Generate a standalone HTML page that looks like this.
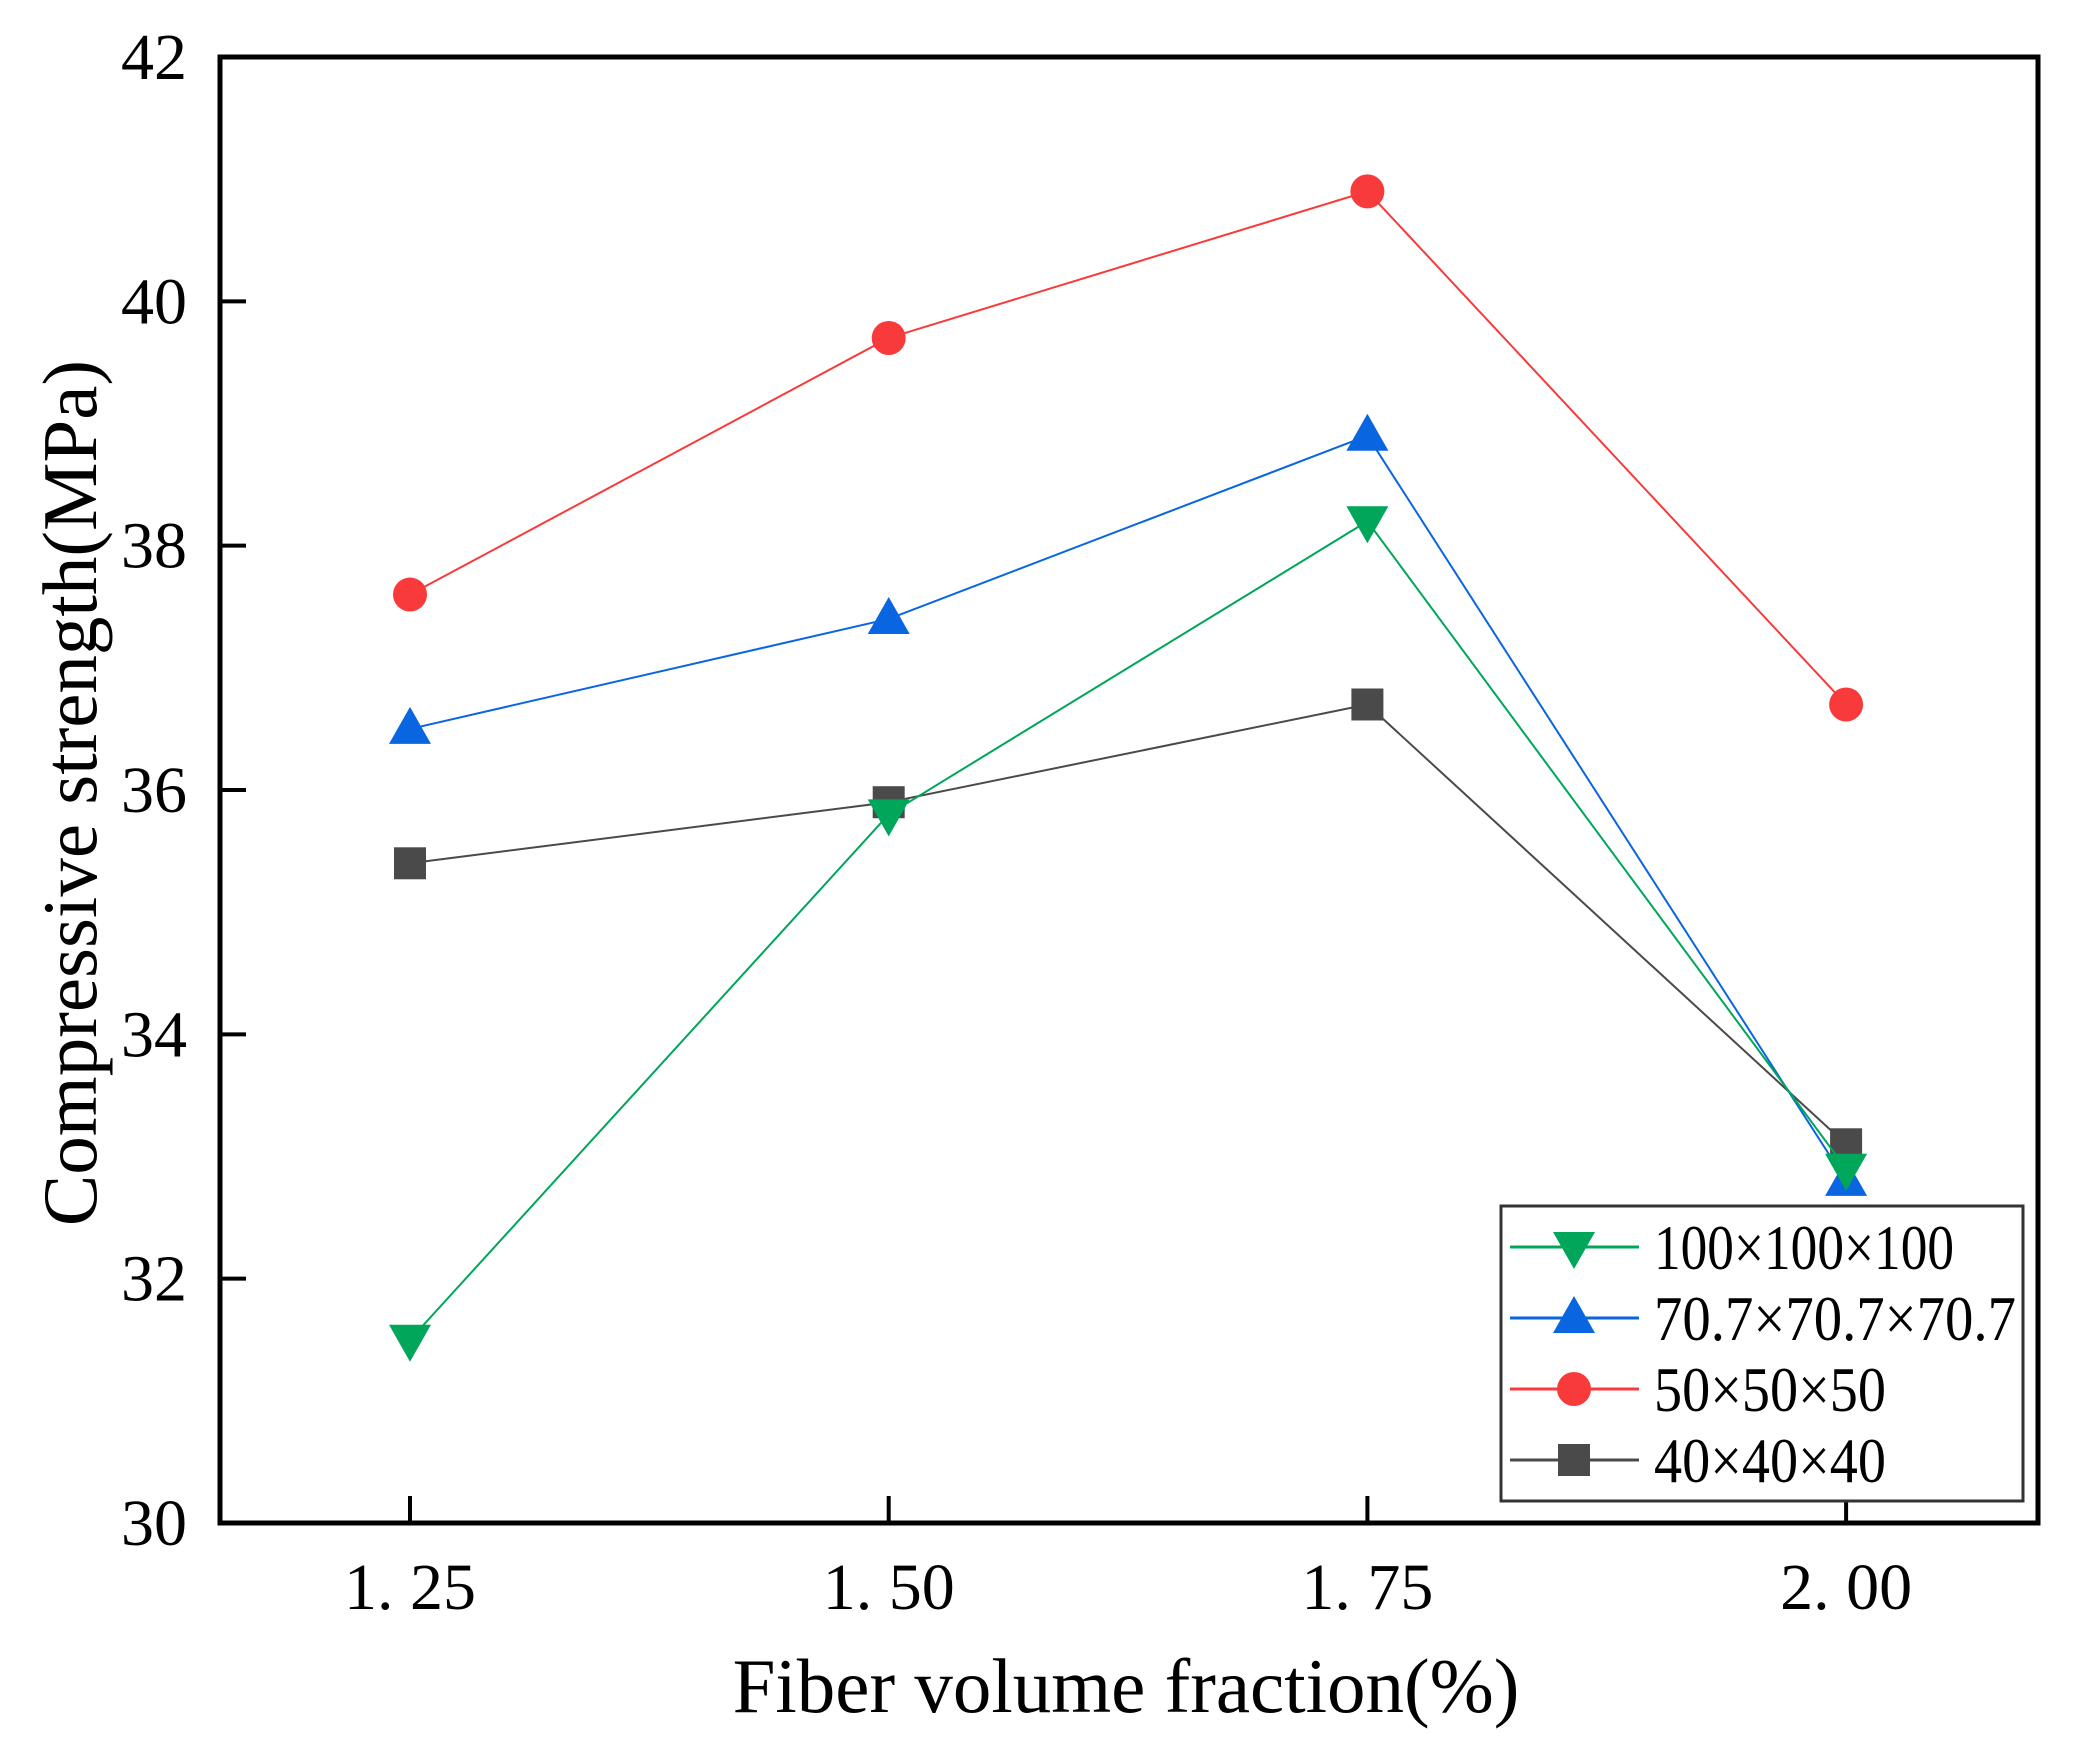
<!DOCTYPE html>
<html><head><meta charset="utf-8"><style>
html,body{margin:0;padding:0;background:#fff}
svg{display:block}
text{font-family:"Liberation Serif",serif;fill:#000}
</style></head><body>
<svg id="chart" width="2077" height="1764" viewBox="0 0 2077 1764" xmlns="http://www.w3.org/2000/svg">
<rect width="2077" height="1764" fill="#fff"/>
<g id="plot"></g>
</svg>
<script>
const categories = [1.25, 1.50, 1.75, 2.00];
const xTickLabels = ["1. 25", "1. 50", "1. 75", "2. 00"];
const yTicks = [30, 32, 34, 36, 38, 40, 42];
const seriesNames = ["40×40×40", "50×50×50", "70.7×70.7×70.7", "100×100×100"];
const s40 = [35.4, 35.9, 36.7, 33.1];
const s50 = [37.6, 39.7, 40.9, 36.7];
const s707 = [36.5, 37.4, 38.9, 32.8];
const s100 = [31.5, 35.8, 38.2, 32.9];

const L = 220, R = 2038, T = 57, B = 1523;
const NS = "http://www.w3.org/2000/svg";
const g = document.getElementById('plot');
function xs(v){ return 410 + (v - 1.25) / 0.25 * 478.7; }
function ys(v){ return B - (v - 30) / 12 * (B - T); }
function el(tag, attrs, parent){
  const e = document.createElementNS(NS, tag);
  for (const k in attrs) e.setAttribute(k, attrs[k]);
  (parent || g).appendChild(e);
  return e;
}
const frame = el('rect', {x: L, y: T, width: R - L, height: B - T, fill: 'none', stroke: '#000', 'stroke-width': 5});


yTicks.forEach(v => {
  const y = ys(v);
  const t = el('line', {x1: L, x2: L + 26, y1: y, y2: y, stroke: '#000', 'stroke-width': 4});
  
  
  const lb = el('text', {x: 187, y: y + 22, 'font-size': 66, 'text-anchor': 'end'});
  lb.textContent = v;
  
  
});
categories.forEach((c, i) => {
  const x = xs(c);
  const t = el('line', {x1: x, x2: x, y1: B, y2: B - 27, stroke: '#000', 'stroke-width': 4});
  
  
  const lb = el('text', {x: x, y: 1609, 'font-size': 66, 'text-anchor': 'middle'});
  lb.textContent = xTickLabels[i];
  
  
});
const xt = el('text', {x: 1126, y: 1712, 'font-size': 77, 'text-anchor': 'middle'});
xt.textContent = 'Fiber volume fraction(%)';


const yt = el('text', {x: 0, y: 0, 'font-size': 77, 'text-anchor': 'middle', transform: 'translate(96,793) rotate(-90)'});
yt.textContent = 'Compressive strength(MPa)';



function marker(type, x, y, color, parent){
  let m;
  if (type === 'square') m = el('rect', {x: x - 16, y: y - 16, width: 32, height: 32, fill: color}, parent);
  else if (type === 'circle') m = el('circle', {cx: x, cy: y, r: 17, fill: color}, parent);
  else if (type === 'up') m = el('polygon', {points: `${x},${y-22} ${x-21},${y+15} ${x+21},${y+15}`, fill: color}, parent);
  else m = el('polygon', {points: `${x},${y+22} ${x-21},${y-15} ${x+21},${y-15}`, fill: color}, parent);
  return m;
}
const series = [
  {name: seriesNames[0], vals: s40, color: '#4a4a4a', m: 'square', key: 'series-40'},
  {name: seriesNames[1], vals: s50, color: '#f83a3a', m: 'circle', key: 'series-50'},
  {name: seriesNames[2], vals: s707, color: '#0a66e0', m: 'up', key: 'series-70-7'},
  {name: seriesNames[3], vals: s100, color: '#00a65a', m: 'down', key: 'series-100'}
];
series.forEach(s => {
  const grp = el('g', {});
  
  
  const pts = s.vals.map((v, i) => xs(categories[i]) + ',' + ys(v)).join(' ');
  const pl = el('polyline', {points: pts, fill: 'none', stroke: s.color, 'stroke-width': 2}, grp);
  
  
  s.vals.forEach((v, i) => {
    const m = marker(s.m, xs(categories[i]), ys(v), s.color, grp);
    
    
  });
});
const lg = el('g', {});


const lb = el('rect', {x: 1501, y: 1206, width: 2023 - 1501, height: 1501 - 1206, fill: '#fff', stroke: '#333', 'stroke-width': 3}, lg);


const order = [3, 2, 1, 0];
const rowsY = [1247, 1318, 1389, 1460];
const textW = [300, 362, 232, 232];
order.forEach((si, r) => {
  const s = series[si];
  const y = rowsY[r];
  const e = el('g', {}, lg);
  
  
  el('line', {x1: 1510, x2: 1639, y1: y, y2: y, stroke: s.color, 'stroke-width': 3}, e);
  marker(s.m, 1574, y, s.color, e);
  const t = el('text', {x: 1654, y: y + 22, 'font-size': 64, textLength: textW[r], lengthAdjust: 'spacingAndGlyphs'}, e);
  t.textContent = s.name;
});
</script>
</body></html>
